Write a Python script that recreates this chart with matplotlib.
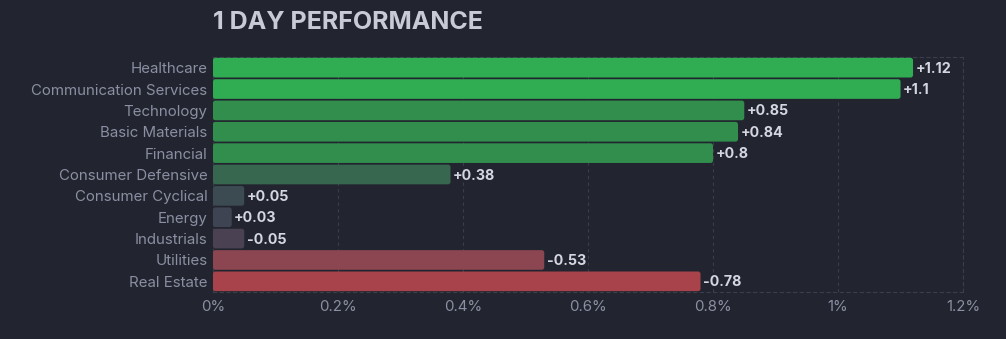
import matplotlib.pyplot as plt
from matplotlib.patches import FancyBboxPatch

plt.rcParams['font.family'] = ['Inter', 'DejaVu Sans']

sectors = ["Healthcare", "Communication Services", "Technology", "Basic Materials",
           "Financial", "Consumer Defensive", "Consumer Cyclical", "Energy",
           "Industrials", "Utilities", "Real Estate"]
changes = [1.12, 1.1, 0.85, 0.84, 0.8, 0.38, 0.05, 0.03, -0.05, -0.53, -0.78]
colors = ["#30ac52", "#30ac52", "#318e4d", "#318e4d", "#318e4d", "#38674f",
          "#3c4a52", "#3f4453", "#4a4152", "#8b4651", "#a8434b"]
xticks = [0, 0.2, 0.4, 0.6, 0.8, 1.0, 1.2]
xtick_labels = ["0%", "0.2%", "0.4%", "0.6%", "0.8%", "1%", "1.2%"]

bg = "#22252f"
fig = plt.figure(figsize=(10.06, 3.39), dpi=100, facecolor=bg)
ax = fig.add_axes([0.2117, 0.1386, 0.7456, 0.6933], facecolor=bg)

ypos = list(range(len(sectors)))
bars = ax.barh(ypos, [abs(v) for v in changes], height=0.92, color=colors)

# swap the plain rectangles for rounded ones
for b in bars:
    x, y = b.get_x(), b.get_y()
    w, h = b.get_width(), b.get_height()
    r = FancyBboxPatch((x, y), w, h,
                       boxstyle="round,pad=0,rounding_size=0.004",
                       mutation_aspect=29, facecolor=b.get_facecolor(),
                       edgecolor="none", zorder=3)
    b.set_visible(False)
    ax.add_patch(r)

for i, v in enumerate(changes):
    txt = f"+{v:g}" if v > 0 else f"{v:g}"
    ax.text(abs(v) + 0.004, i + 0.05, txt, va="center", ha="left", color="#d4d6e0",
            fontsize=10.3, fontweight="bold", zorder=4)

ax.set_xlim(0, 1.2)
ax.set_ylim(len(sectors) - 0.5, -0.5)
ax.set_xticks(xticks)
ax.set_xticklabels(xtick_labels)
ax.set_yticks(ypos)
ax.set_yticklabels(sectors)
ax.tick_params(axis="both", length=0, colors="#8a8fa3", labelsize=10.8)
ax.tick_params(axis="y", pad=4)
ax.tick_params(axis="x", pad=6)

ax.grid(axis="x", color="#3a3e4b", linestyle=(0, (3, 3)), linewidth=0.8, zorder=0)
for side in ["top", "bottom", "right", "left"]:
    ax.spines[side].set_color("#3a3e4b")
    ax.spines[side].set_linestyle((0, (3, 3)))
    ax.spines[side].set_linewidth(0.8)

fig.text(0.2117, 0.935, "1 DAY PERFORMANCE", color="#c8cad6", fontsize=18,
         fontweight="bold", va="center", ha="left")

fig.savefig("out.png", dpi=100, facecolor=bg)
